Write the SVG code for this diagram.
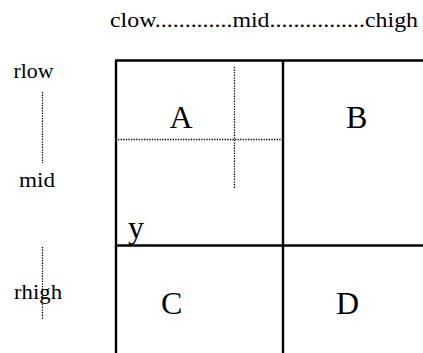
<svg xmlns="http://www.w3.org/2000/svg" width="423" height="353" viewBox="0 0 423 353">
  <style>
    .axis { font-size: 21px; }
    .cell { font-size: 32px; }
    .grid { stroke: #000; stroke-width: 2.4; fill: none; }
    .dots { stroke: #000; stroke-width: 1.3; stroke-dasharray: 1.3 1.3; fill: none; }
  </style>
  <rect width="423" height="353" fill="#fff"/>

  <g font-family="Liberation Serif, DejaVu Serif, serif" fill="#000">
    <!-- column scale along the top -->
    <g id="col-scale">
      <text class="axis" x="110" y="27" textLength="308" lengthAdjust="spacingAndGlyphs">clow.............mid................chigh</text>
    </g>

    <!-- row scale down the left side -->
    <g id="row-scale">
      <text class="axis" x="13.5" y="78" textLength="40" lengthAdjust="spacingAndGlyphs">rlow</text>
      <text class="axis" x="19" y="187" textLength="36" lengthAdjust="spacingAndGlyphs">mid</text>
      <text class="axis" x="14" y="299" textLength="48" lengthAdjust="spacingAndGlyphs">rhigh</text>
    </g>

    <g id="cell-A"><text class="cell" x="169.5" y="127.5">A</text></g>
    <g id="cell-B"><text class="cell" x="346" y="127.5">B</text></g>
    <g id="cell-C"><text class="cell" x="161" y="313.5">C</text></g>
    <g id="cell-D"><text class="cell" x="336" y="313.5">D</text></g>
    <g id="label-y"><text class="cell" x="128" y="238">y</text></g>
  </g>

  <!-- grid lines and dotted guides -->
  <g id="connectors">
    <line class="grid" x1="115" y1="60.5" x2="423" y2="60.5"/>
    <line class="grid" x1="115" y1="245.5" x2="423" y2="245.5"/>
    <line class="grid" x1="116" y1="60.5" x2="116" y2="353"/>
    <line class="grid" x1="283" y1="60.5" x2="283" y2="353"/>
    <line class="dots" x1="118" y1="139.5" x2="281" y2="139.5"/>
    <line class="dots" x1="234.5" y1="67" x2="234.5" y2="188"/>
    <line class="dots" x1="42.5" y1="92" x2="42.5" y2="163"/>
    <line class="dots" x1="42.5" y1="247" x2="42.5" y2="319"/>
  </g>
</svg>
